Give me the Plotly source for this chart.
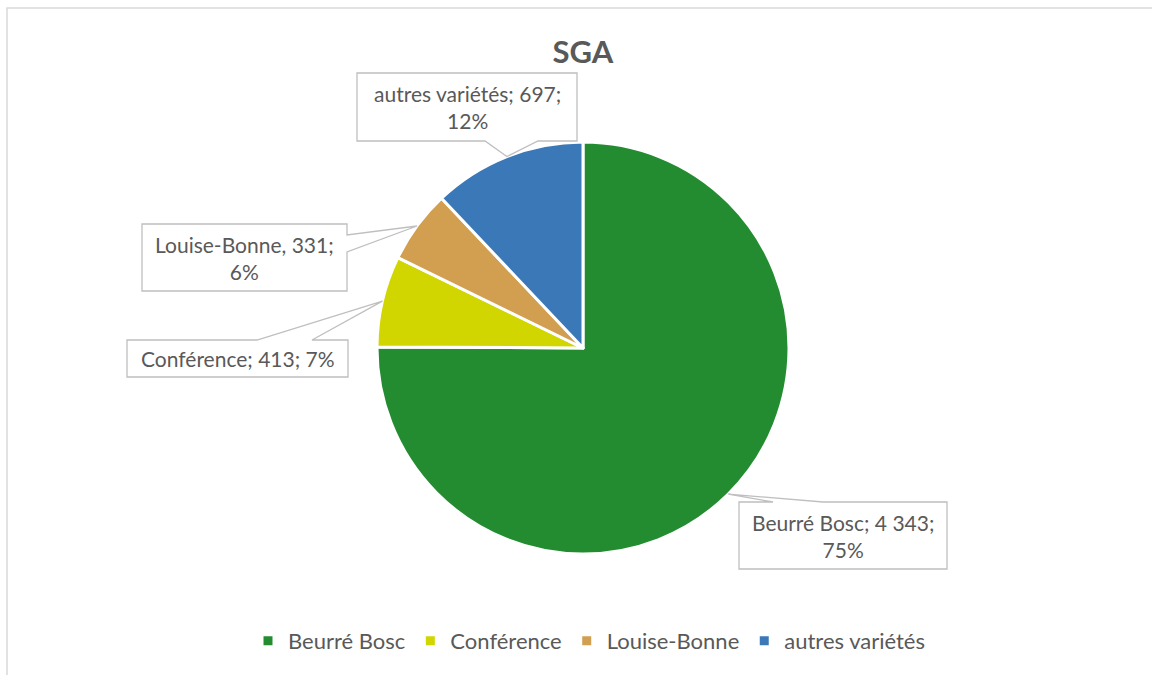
import math
import plotly.graph_objects as go

W, H = 1152, 675

# ---------------- data ----------------
varieties = ["Beurré Bosc", "Conférence", "Louise-Bonne", "autres variétés"]
values = [4343, 413, 331, 697]
colors = ["#238C30", "#D2D600", "#D29E50", "#3A78B8"]
title_text = "SGA"

total = sum(values)
pcts = [round(100 * v / total) for v in values]


def fmt(v):
    return f"{v:,}".replace(",", " ")


label_texts = [
    f"{varieties[0]}; {fmt(values[0])};<br>{pcts[0]}%",
    f"{varieties[1]}; {fmt(values[1])}; {pcts[1]}%",
    f"{varieties[2]}, {fmt(values[2])};<br>{pcts[2]}%",
    f"{varieties[3]}; {fmt(values[3])};<br>{pcts[3]}%",
]

# ---------------- layout geometry (pixels) ----------------
CX, CY, R = 583, 348, 206          # pie centre / radius
FONT = "Lato, Carlito, Calibri, 'Open Sans', sans-serif"
TXT = "#595959"
BOX_LINE = "#BFBFBF"

# callout boxes: (x0, y0, x1, y1), side of wedge, wedge base endpoints
boxes = [
    ((739, 502, 947, 569), "top", (773, 823)),
    ((127, 340, 348, 377), "top", (257, 312)),
    ((142, 224, 347, 291), "right", (235, 252)),
    ((357, 73, 577, 141), "bottom", (485, 538)),
]


def px(x):
    return x / W


def py(y):
    return 1 - y / H


# slice mid-angles from data (clockwise from 12 o'clock)
tips = []
cum = 0
for v in values:
    mid = (cum + v / 2) / total * 2 * math.pi
    cum += v
    tips.append((CX + R * math.sin(mid), CY - R * math.cos(mid)))

fig = go.Figure()
fig.add_trace(go.Pie(
    labels=varieties,
    values=values,
    sort=False,
    direction="clockwise",
    rotation=0,
    textinfo="none",
    marker=dict(colors=colors, line=dict(color="white", width=3)),
    domain=dict(x=[px(CX - R), px(CX + R)], y=[py(CY + R), py(CY - R)]),
    hovertemplate="%{label}: %{value} (%{percent})<extra></extra>",
))

shapes = [
    dict(type="rect", xref="paper", yref="paper",
         x0=px(7), x1=1.05, y0=-0.05, y1=py(8),
         line=dict(color="#D9D9D9", width=1.5), fillcolor="rgba(0,0,0,0)",
         layer="below"),
]
annotations = []
for (box, side, base), tip, txt in zip(boxes, tips, label_texts):
    x0, y0, x1, y1 = box
    b1, b2 = base
    tx, ty = tip
    if side == "top":
        pts = [(x0, y0), (b1, y0), (tx, ty), (b2, y0), (x1, y0), (x1, y1), (x0, y1)]
    elif side == "bottom":
        pts = [(x0, y0), (x1, y0), (x1, y1), (b2, y1), (tx, ty), (b1, y1), (x0, y1)]
    else:  # right
        pts = [(x0, y0), (x1, y0), (x1, b1), (tx, ty), (x1, b2), (x1, y1), (x0, y1)]
    path = "M " + " L ".join(f"{px(a):.5f},{py(b):.5f}" for a, b in pts) + " Z"
    shapes.append(dict(type="path", xref="paper", yref="paper", path=path,
                       line=dict(color=BOX_LINE, width=1.3), fillcolor="white",
                       layer="above"))
    annotations.append(dict(
        xref="paper", yref="paper", x=px((x0 + x1) / 2), y=py((y0 + y1) / 2),
        xanchor="center", yanchor="middle", text=txt, showarrow=False,
        align="center", font=dict(family=FONT, size=21, color=TXT),
    ))

fig.update_layout(
    width=W, height=H,
    margin=dict(l=0, r=0, t=0, b=0),
    paper_bgcolor="white", plot_bgcolor="white",
    title=dict(text=f"<b>{title_text}</b>", x=px(583), xanchor="center",
               y=py(52), yanchor="middle",
               font=dict(family=FONT, size=31, color=TXT)),
    legend=dict(orientation="h", x=px(589), xanchor="center",
                y=py(641), yanchor="middle", itemwidth=30,
                font=dict(family=FONT, size=22, color=TXT),
                traceorder="normal"),
    shapes=shapes,
    annotations=annotations,
)

fig.write_html(
    "out.html",
    config={"displayModeBar": False},
    post_script="document.body.style.margin='0';document.body.style.overflow='hidden';",
)
